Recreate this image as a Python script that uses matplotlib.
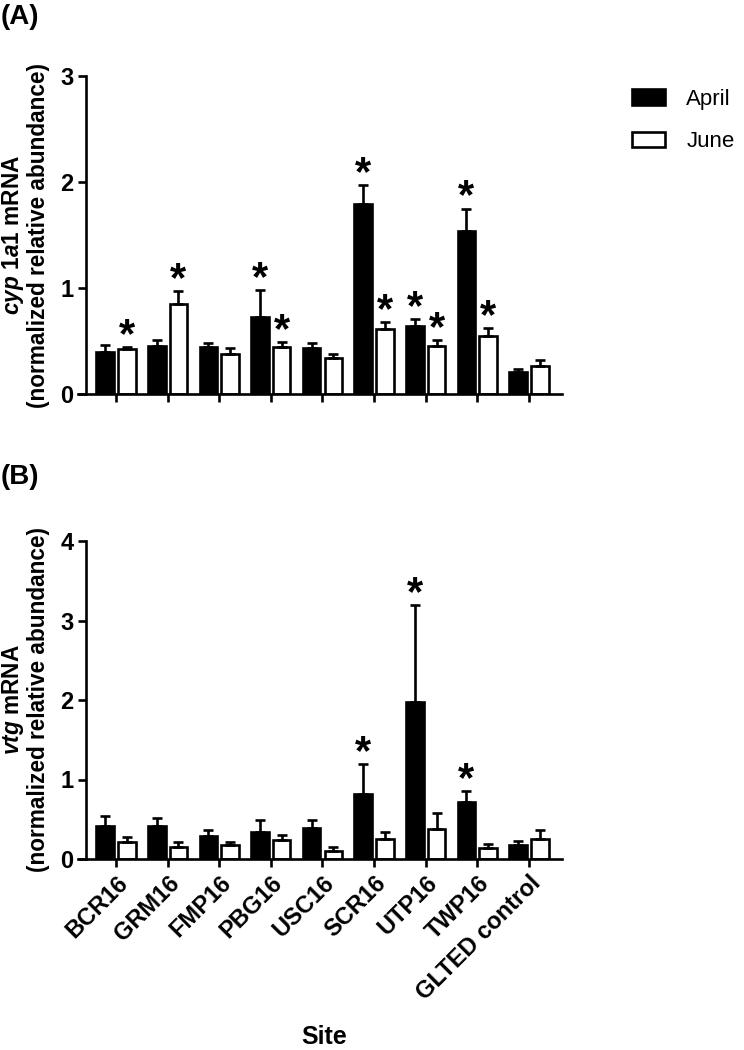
import matplotlib
matplotlib.use("Agg")
import matplotlib.pyplot as plt
import numpy as np

plt.rcParams['font.family'] = ['Liberation Sans', 'DejaVu Sans']
plt.rcParams['mathtext.fontset'] = 'custom'
plt.rcParams['mathtext.it'] = 'Liberation Sans:style=italic:weight=bold'
plt.rcParams['mathtext.rm'] = 'Liberation Sans:weight=bold'
plt.rcParams['mathtext.bf'] = 'Liberation Sans:weight=bold'

sites = ['BCR16', 'GRM16', 'FMP16', 'PBG16', 'USC16', 'SCR16', 'UTP16', 'TWP16', 'GLTED control']
groups = ['April', 'June']

# Panel A: cyp1a1
cyp_april = [0.40, 0.45, 0.44, 0.73, 0.43, 1.79, 0.64, 1.54, 0.21]
cyp_april_err = [0.06, 0.06, 0.04, 0.25, 0.05, 0.18, 0.07, 0.21, 0.03]
cyp_june = [0.42, 0.85, 0.38, 0.44, 0.34, 0.61, 0.45, 0.55, 0.26]
cyp_june_err = [0.02, 0.12, 0.05, 0.05, 0.04, 0.07, 0.06, 0.07, 0.06]
cyp_april_sig = [False, False, False, True, False, True, True, True, False]
cyp_june_sig = [True, True, False, True, False, True, True, True, False]

# Panel B: vtg
vtg_april = [0.42, 0.41, 0.29, 0.34, 0.385, 0.82, 1.97, 0.72, 0.17]
vtg_april_err = [0.12, 0.11, 0.08, 0.15, 0.10, 0.37, 1.22, 0.14, 0.06]
vtg_june = [0.22, 0.15, 0.18, 0.24, 0.10, 0.25, 0.38, 0.14, 0.25]
vtg_june_err = [0.06, 0.06, 0.03, 0.06, 0.05, 0.09, 0.20, 0.05, 0.11]
vtg_april_sig = [False, False, False, False, False, True, True, True, False]
vtg_june_sig = [False] * 9

fig = plt.figure(figsize=(7.44, 10.5), dpi=100)
W, H = 744, 1050
def rect(x0, y_top, x1, y_bot):
    return [x0 / W, 1 - y_bot / H, (x1 - x0) / W, (y_bot - y_top) / H]

axA = fig.add_axes(rect(86, 76, 562, 394))
axB = fig.add_axes(rect(86, 541, 562, 859))

LW = 1.9
bw = 0.34
off = 0.21

def draw(ax, a, ae, j, je, asig, jsig, ymax, step):
    x = np.arange(len(sites))
    ax.bar(x - off, a, bw, color='black', edgecolor='black', linewidth=LW, zorder=2, label=groups[0])
    ax.bar(x + off, j, bw, color='white', edgecolor='black', linewidth=LW, zorder=2, label=groups[1])
    ax.errorbar(x - off, a, yerr=[np.zeros(len(a)), ae], fmt='none', ecolor='black',
                elinewidth=LW, capsize=3.6, capthick=LW, zorder=3)
    ax.errorbar(x + off, j, yerr=[np.zeros(len(j)), je], fmt='none', ecolor='black',
                elinewidth=LW, capsize=3.6, capthick=LW, zorder=3)
    for xs, vals, errs, sigs in ((x - off, a, ae, asig), (x + off, j, je, jsig)):
        for xi, v, e, s in zip(xs, vals, errs, sigs):
            if s:
                ax.text(xi, v + e, '*', ha='center', va='baseline', fontsize=30, fontweight='bold')
    ax.set_xlim(-0.58, 8.64)
    ax.set_ylim(0, ymax)
    ax.set_yticks(np.arange(0, ymax + 0.01, step))
    ax.set_xticks(x)
    for sp in ['top', 'right']:
        ax.spines[sp].set_visible(False)
    for sp in ['left', 'bottom']:
        ax.spines[sp].set_linewidth(LW)
    ax.spines['bottom'].set_bounds(-0.58 - 0.16, 8.64)
    ax.tick_params(axis='both', direction='out', length=6, width=LW, labelsize=17, pad=3)
    for lab in ax.get_yticklabels():
        lab.set_fontweight('bold')

draw(axA, cyp_april, cyp_april_err, cyp_june, cyp_june_err, cyp_april_sig, cyp_june_sig, 3, 1)
draw(axB, vtg_april, vtg_april_err, vtg_june, vtg_june_err, vtg_april_sig, vtg_june_sig, 4, 1)

axA.set_xticklabels([])
axB.set_xticklabels(sites, rotation=45, ha='right', rotation_mode='anchor', fontsize=17, fontweight='bold')

axA.set_ylabel('$\\mathit{cyp\\ 1a1}$ mRNA\n(normalized relative abundance)', fontsize=16.3, fontweight='bold', linespacing=1.05)
axB.set_ylabel('$\\mathit{vtg}$ mRNA\n(normalized relative abundance)', fontsize=16.3, fontweight='bold', linespacing=1.05)
axA.yaxis.set_label_coords(-0.076, 0.5)
axB.yaxis.set_label_coords(-0.076, 0.5)

fig.text(324 / W, 1 - 1049 / H, 'Site', fontsize=18, fontweight='bold', ha='center', va='bottom')

fig.text(1 / W, 1 - 4 / H, '(A)', fontsize=20, fontweight='bold', ha='left', va='top')
fig.text(1 / W, 1 - 464 / H, '(B)', fontsize=20, fontweight='bold', ha='left', va='top')

leg = axA.legend(loc='upper left', bbox_to_anchor=(632 / W, 1 - 89 / H), bbox_transform=fig.transFigure,
                 frameon=False, fontsize=16, handlelength=1.5, handleheight=0.7, labelspacing=0.95,
                 handletextpad=0.95, borderaxespad=0, borderpad=0)

fig.savefig('out.png', dpi=100)
